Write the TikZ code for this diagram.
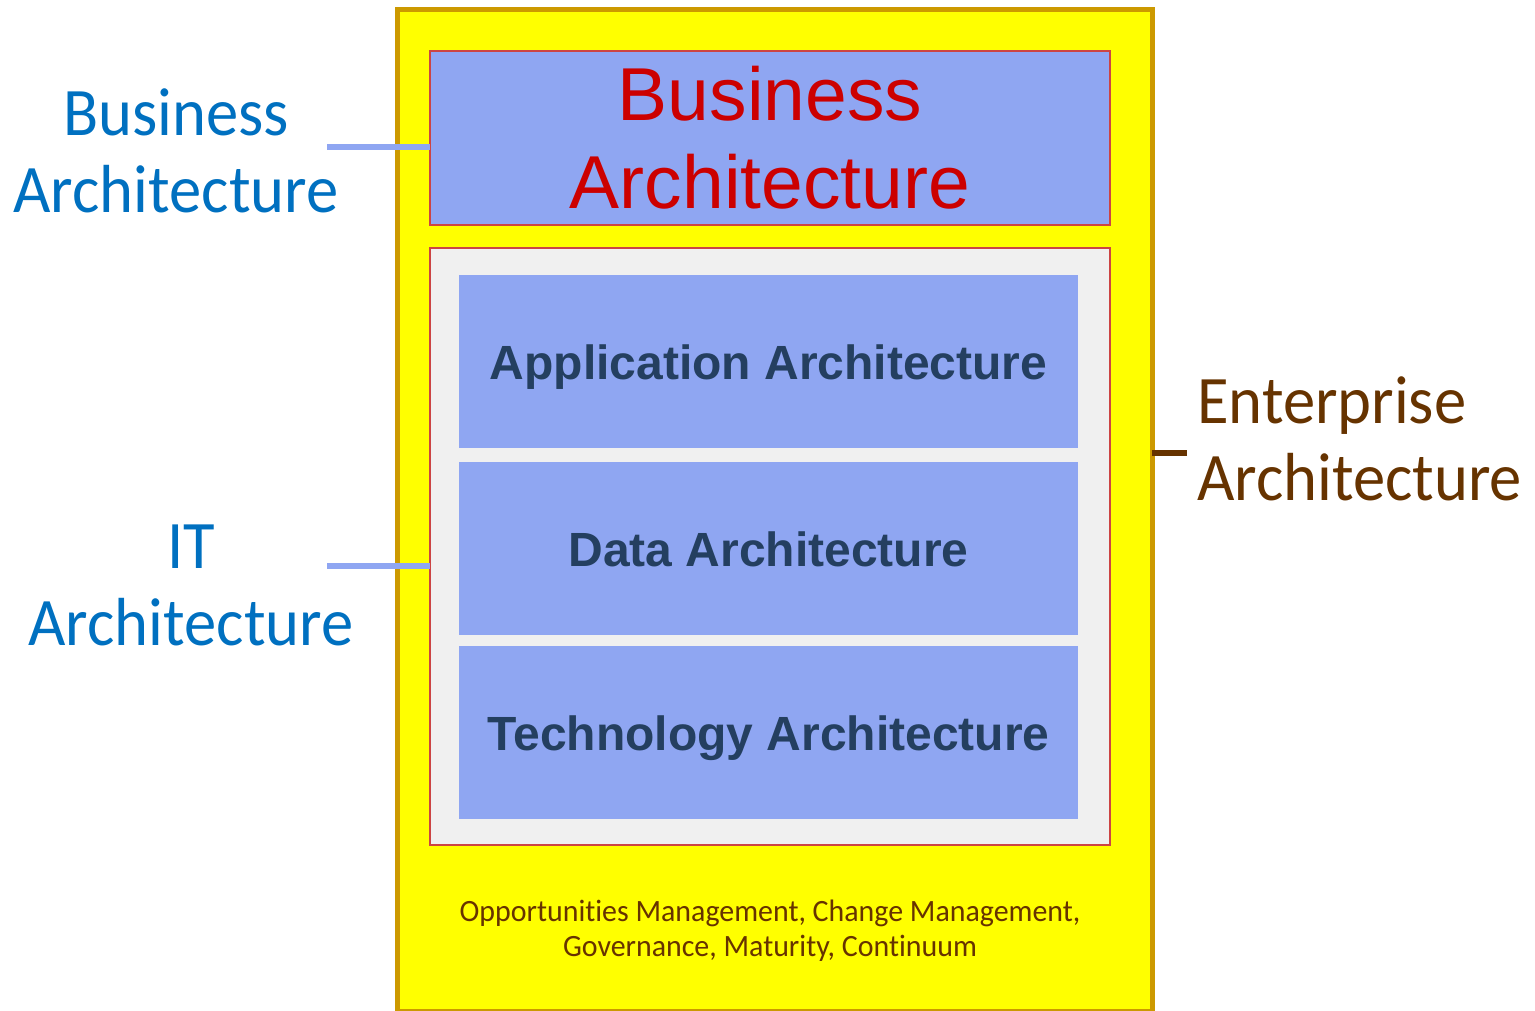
\documentclass[tikz,border=0pt]{standalone}
\usepackage{fontspec}
\setmainfont{Liberation Sans}
\newfontfamily\sidefont[FakeStretch=0.95,Ligatures=CommonOff]{Carlito}
\newfontfamily\notefont[FakeStretch=0.965,Ligatures=CommonOff]{Carlito}
\usetikzlibrary{positioning}
\definecolor{eayellow}{HTML}{FFFF00}
\definecolor{eagold}{HTML}{CC9900}
\definecolor{layerblue}{HTML}{8FA6F2}
\definecolor{layertext}{HTML}{243F60}
\definecolor{bandred}{HTML}{CC4444}
\definecolor{bared}{HTML}{CC0000}
\definecolor{itgray}{HTML}{F0F0F0}
\definecolor{sideblue}{HTML}{0070C0}
\definecolor{eabrown}{HTML}{663300}
\tikzset{
  frame/.style={rectangle, inner sep=0pt, outer sep=0pt, draw=eagold, line width=5pt, fill=eayellow, minimum width=754.5pt, minimum height=1001pt},
  band/.style={rectangle, inner sep=0pt, outer sep=0pt, draw=bandred, line width=1.5pt, fill=layerblue, minimum width=680pt},
  layer/.style={rectangle, inner sep=0pt, outer sep=0pt, fill=layerblue, minimum width=619pt, minimum height=173pt, text=layertext, font=\bfseries\fontsize{48}{56}\selectfont, text height=35pt, text depth=0pt},
  sidelabel/.style={inner sep=0pt, align=center, text=sideblue, font=\sidefont\fontsize{68}{77}\selectfont},
  notetext/.style={inner sep=0pt, align=center, text=eabrown, font=\notefont\fontsize{31}{35}\selectfont},
  tie/.style={draw=layerblue, line width=6pt}
}
\begin{document}
\begin{tikzpicture}[x=1pt,y=-1pt,node distance=186pt,on grid]
  \useasboundingbox (0,0) rectangle (1535,1011);
  \node[frame] (ea) at (774.75,510.5) {};
  \node[band, minimum height=174pt, align=center, text=bared, font=\fontsize{75}{88}\selectfont] (ba) at (770,138) {Business\\Architecture};
  \node[band, fill=itgray, minimum height=597pt] (it) at (770,546.5) {};
  \node[layer] (app) at (768.5,361.5) {Application Architecture};
  \node[layer] (data) [below=187pt of app] {Data Architecture};
  \node[layer] (tech) [below=184pt of data] {Technology Architecture};
  \node[notetext] (note) at (770,931) {Opportunities Management, Change Management,\\Governance, Maturity, Continuum};
  \node[sidelabel] (balbl) at (176,150.5) {Business\\Architecture};
  \node[sidelabel] (itlbl) at (191,585) {IT\\Architecture};
  \node[sidelabel, text=eabrown, anchor=west, align=left] (ealbl) at (1197,438.5) {Enterprise\\Architecture};
  \coordinate (baend) at (327,147.5);
  \coordinate (itend) at (327,566);
  \coordinate (eaend) at (1187,453);
  \draw[tie] (baend) -- (baend -| ba.west);
  \draw[tie] (itend) -- (itend -| it.west);
  \draw[tie, draw=eabrown] (eaend) -- (eaend -| ea.east);
\end{tikzpicture}
\end{document}
